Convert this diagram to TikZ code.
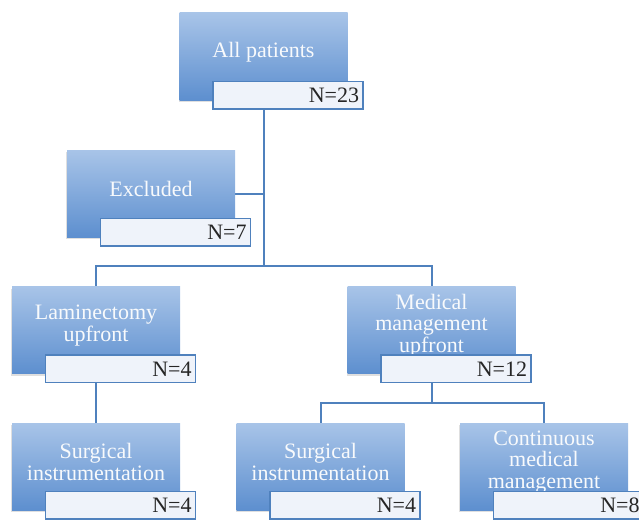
\documentclass[tikz,border=0pt]{standalone}
\usepackage{fontspec}
\setmainfont{Liberation Serif}
\usetikzlibrary{shadows,backgrounds}
\definecolor{accent}{HTML}{4F81BD}
\definecolor{boxtop}{HTML}{A8C4E8}
\definecolor{boxbot}{HTML}{5D8FCF}
\definecolor{tallyfill}{HTML}{EFF3FA}

\tikzset{
  basic/.style   = {font=\fontsize{22}{21.5}\selectfont, rectangle, text centered, inner sep=2pt},
  stage/.style   = {basic, top color=boxtop, bottom color=boxbot, minimum width=168pt, minimum height=87pt,
                    drop shadow={shadow xshift=-1pt, shadow yshift=-2pt, opacity=0.25}},
  caption/.style = {basic, text=white!96!accent, align=center, yshift=4.5pt},
  tally/.style   = {basic, draw=accent, line width=1.6pt, fill=tallyfill, text=black!85,
                    text width=142pt, align=right, inner xsep=4pt, minimum height=27.5pt},
  link/.style    = {draw=accent, line width=2pt}
}

\begin{document}
\begin{tikzpicture}[x=1pt, y=-1pt]
\clip (0,0) rectangle (639,519);

% the stages, placed at fixed coordinates
\node[stage, label={[caption, name=t0]center:All patients}] (c0) at (263.5,56.5) {};
\node[stage, label={[caption, name=t1]center:Excluded}] (c1) at (151,193.5) {};
\node[stage, label={[caption, name=t2]center:Laminectomy\\upfront}] (c2) at (96,330) {};
\node[stage, label={[caption, name=t3]center:Medical\\management\\upfront}] (c3) at (431.5,330) {};

% the last level
\node[stage, label={[caption, name=t21]center:Surgical\\instrumentation}] (c21) at (96,466.5) {};
\node[stage, label={[caption, name=t31]center:Surgical\\instrumentation}] (c31) at (320.5,466.5) {};
\node[stage, label={[caption, name=t32]center:Continuous\\medical\\management}] (c32) at (544,466.5) {};

% counts, in front of the lower right part of each stage
\foreach \name/\total in {0/23,1/7,2/4,3/12,21/4,31/4,32/8}
  \node[tally, anchor=north west, xshift=33pt, yshift=-68pt] (n\name) at (c\name.north west) {N=\total};

% connectors, behind the boxes
\begin{scope}[on background layer]
\coordinate (j0) at (263.5,266);
\coordinate (j3) at (431.5,403);
\draw[link] (c0.south) -- (j0);
\draw[link] (c1.east) -- (c1.east -| c0.south);
\draw[link] (c2.north) |- (j0) -| (c3.north);
\draw[link] (c2.south) -- (c21.north);
\draw[link] (c3.south) -- (j3);
\draw[link] (c31.north) |- (j3) -| (c32.north);
\end{scope}
\end{tikzpicture}
\end{document}
